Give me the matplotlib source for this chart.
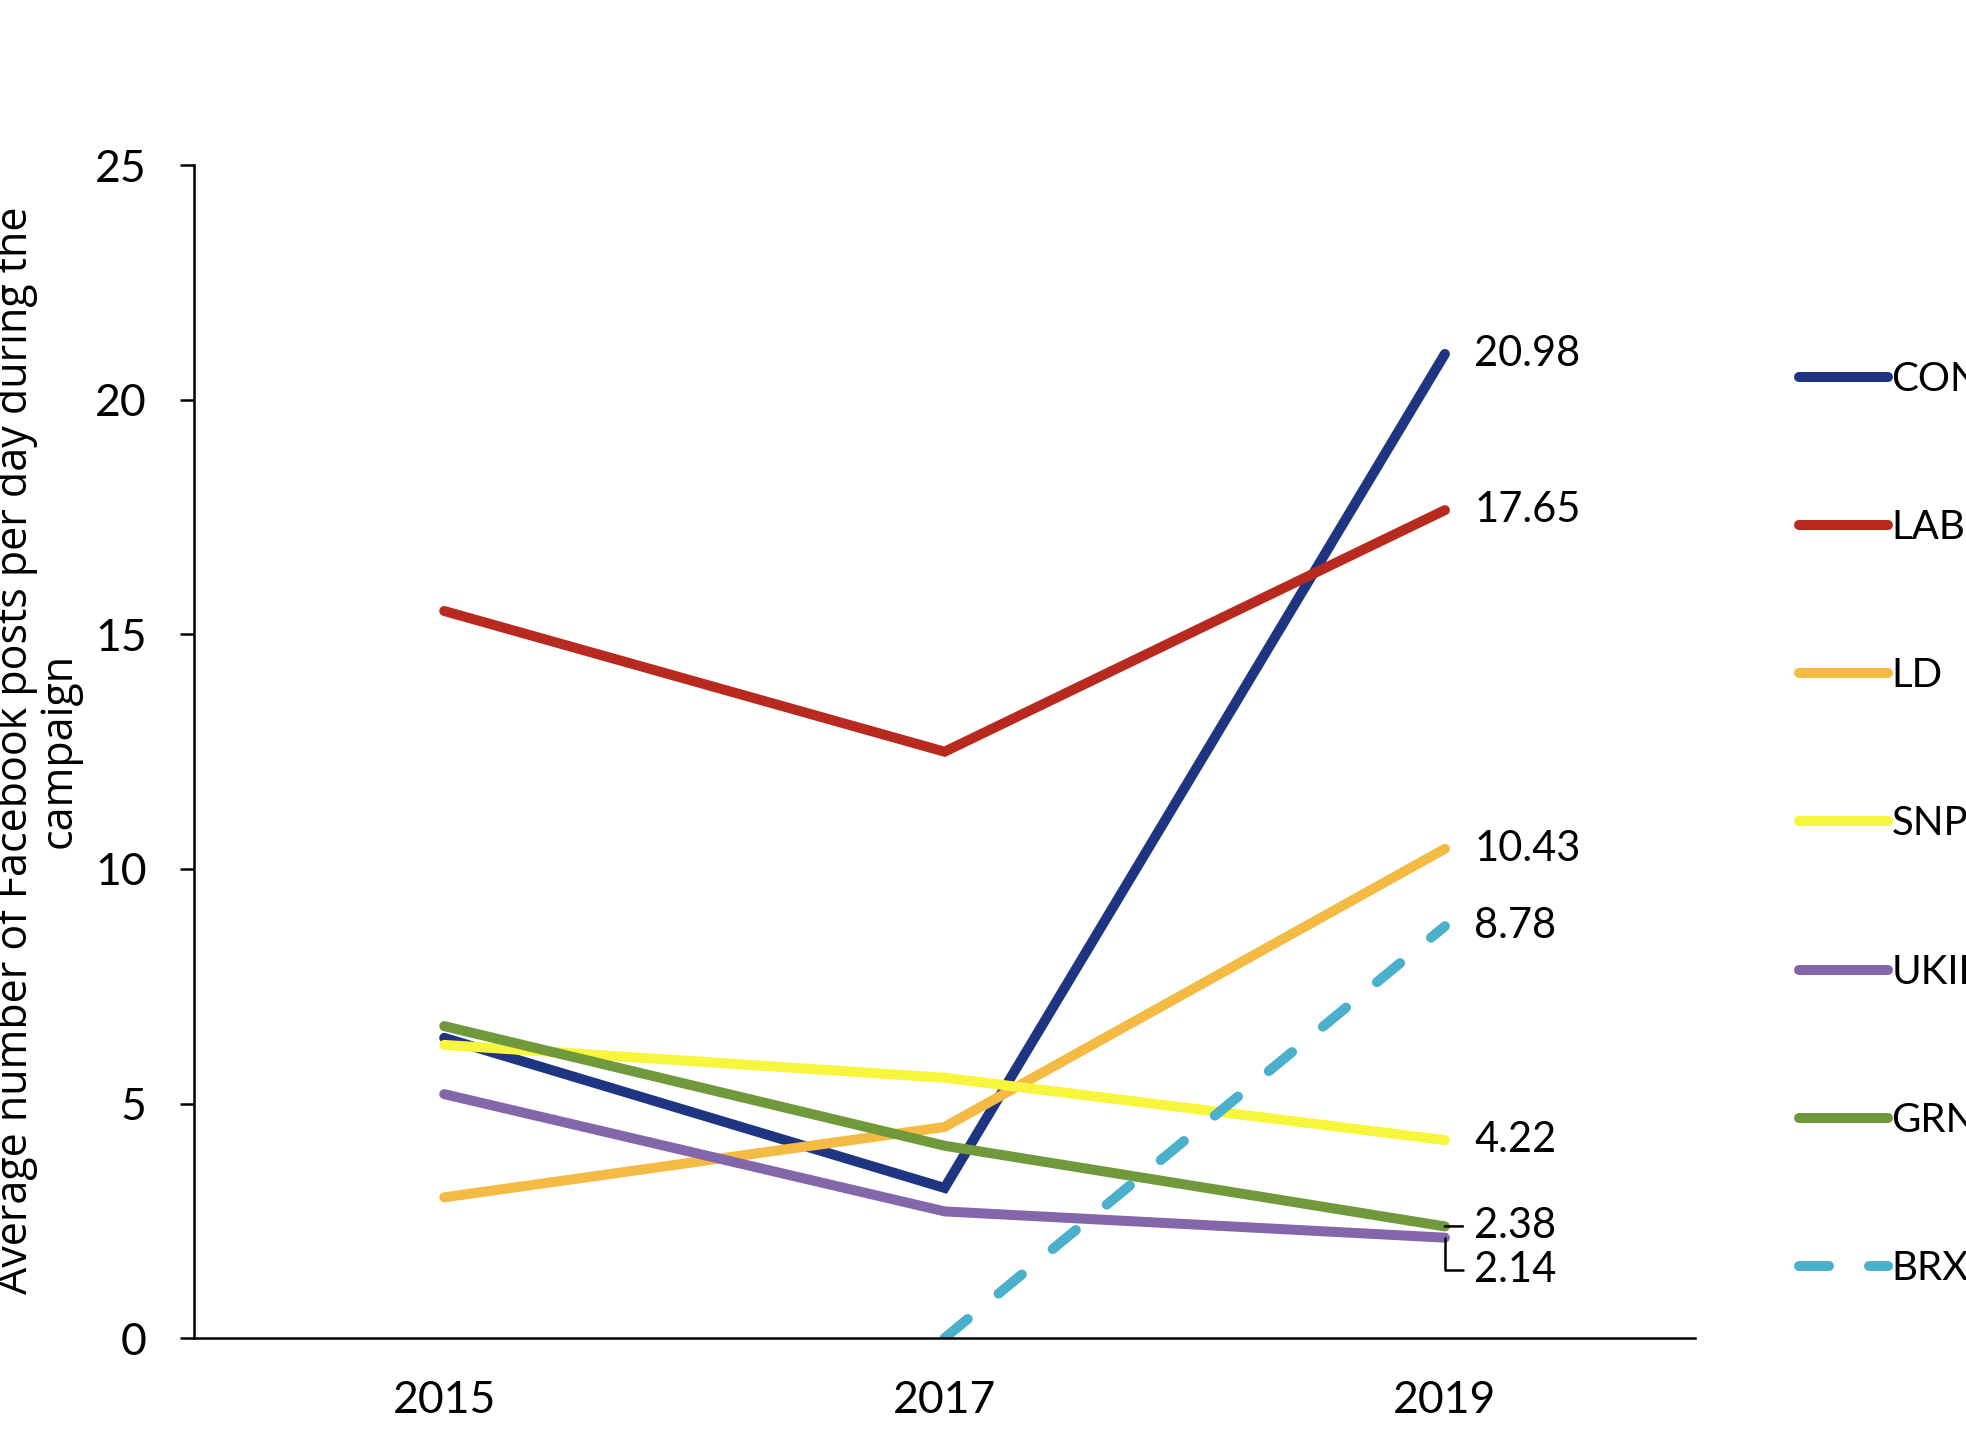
"""
Average Facebook posts per day by party, UK general election campaigns
"""

import matplotlib
matplotlib.use('Agg')
import matplotlib.pyplot as plt
import numpy as np

years = ['2015', '2017', '2019']
parties = ['CON', 'LAB', 'LD', 'SNP', 'UKIP', 'GRN', 'BRX']
con = [6.4, 3.2, 20.98]
lab = [15.5, 12.5, 17.65]
ld = [3.0, 4.5, 10.43]
snp = [6.25, 5.55, 4.22]
ukip = [5.2, 2.7, 2.14]
grn = [6.65, 4.1, 2.38]
brx = [np.nan, 0.0, 8.78]

colors = ['#1f3582', '#b82a1f', '#f4bb44', '#f7f53c', '#8466aa', '#6f993b', '#4bb0cc']
series = [con, lab, ld, snp, ukip, grn, brx]

plt.rcParams['font.family'] = ['Lato', 'DejaVu Sans']

fig = plt.figure(figsize=(19.66, 14.38), dpi=100)
ax = fig.add_axes([0.0987, 0.0695, 0.7635, 0.8155])

x = np.arange(len(years))
lines = []
for name, vals, col in zip(parties, series, colors):
    if name == 'BRX':
        ln, = ax.plot(x, vals, color=col, lw=7.2, dashes=(3.0, 4.0),
                      dash_capstyle='round', label=name)
    else:
        ln, = ax.plot(x, vals, color=col, lw=7.2, solid_capstyle='round',
                      solid_joinstyle='miter', label=name)
    lines.append(ln)

# end-of-line value labels
label_size = 30
for name, vals in zip(parties, series):
    v = vals[-1]
    if name == 'UKIP':
        ax.annotate(f'{v:.2f}', xy=(x[-1], v), xytext=(21, -23),
                    textcoords='offset points', va='center', ha='left',
                    fontsize=label_size,
                    arrowprops=dict(arrowstyle='-', color='black', lw=1.8,
                                    relpos=(0, 0.5), shrinkA=6, shrinkB=0,
                                    connectionstyle='angle,angleA=0,angleB=90,rad=0'))
    elif name == 'GRN':
        ax.annotate(f'{v:.2f}', xy=(x[-1], v), xytext=(21, 0),
                    textcoords='offset points', va='center', ha='left',
                    fontsize=label_size,
                    arrowprops=dict(arrowstyle='-', color='black', lw=1.8,
                                    relpos=(0, 0.5), shrinkA=6, shrinkB=0))
    else:
        ax.annotate(f'{v:.2f}', xy=(x[-1], v), xytext=(21, 0),
                    textcoords='offset points', va='center', ha='left',
                    fontsize=label_size)

ax.set_xlim(-0.5, 2.5)
ax.set_ylim(0, 25)
ax.set_xticks(x)
ax.set_xticklabels(years)
ax.set_yticks(np.arange(0, 26, 5))
ax.tick_params(axis='y', direction='out', length=10, width=1.8, pad=24, labelsize=32)
ax.tick_params(axis='x', length=0, pad=30, labelsize=32)
for s in ['top', 'right']:
    ax.spines[s].set_visible(False)
for s in ['left', 'bottom']:
    ax.spines[s].set_linewidth(1.8)

fig.text(0.019, 0.478, 'Average number of Facebook posts per day during the\ncampaign',
         rotation=90, ha='center', va='center', multialignment='center',
         fontsize=31, family=['Open Sans', 'DejaVu Sans'], linespacing=1.0)

fig.legend(handles=lines, loc='center left', bbox_to_anchor=(0.915, 0.427),
           frameon=False, fontsize=29, handlelength=2.2, handletextpad=0.1,
           labelspacing=2.76, borderpad=0, borderaxespad=0)

fig.savefig('out.png', dpi=100)
